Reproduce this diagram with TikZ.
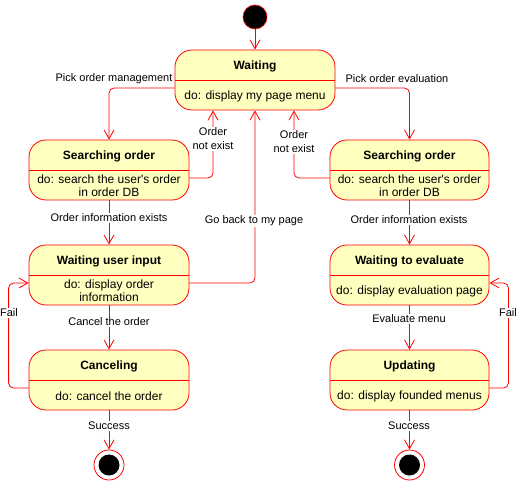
\documentclass[tikz,border=0pt]{standalone}
\usepackage{fontspec}
\setmainfont{Liberation Sans}
\usetikzlibrary{arrows.meta,positioning}
\definecolor{stfill}{HTML}{FFFFC0}
\definecolor{stline}{HTML}{FF0000}
\tikzset{
  stbox/.style={draw=stline,fill=stfill,rounded corners=17pt,line width=0.8pt,inner sep=0pt},
  ttl/.style={font=\bfseries\fontsize{12}{14}\selectfont,inner sep=0pt},
  bdy/.style={font=\fontsize{12}{13}\selectfont,align=center,inner sep=0pt},
  lbl/.style={font=\fontsize{11}{14}\selectfont,fill=white,inner sep=1pt,align=center},
  arr/.style={draw=stline,line width=0.8pt,rounded corners=5pt,-{Straight Barb[length=9pt,width=10pt]}},
  divl/.style={draw=stline,line width=0.8pt},
}
\newcommand{\mkstate}[9]{%
  % #1 name, #2 x1, #3 y1, #4 x2, #5 y2, #6 divider y, #7 title y, #8 body y, #9 title
  \node[stbox,minimum width={(#4-#2)*1pt},minimum height={(#5-#3)*1pt}] (#1) at ({(#2+#4)/2},{(#3+#5)/2}) {};
  \draw[divl] (#2,#6) -- (#4,#6);
  \node[ttl] (#1t) at ({(#2+#4)/2},#7) {#9};
}
\begin{document}
\begin{tikzpicture}[x=1pt,y=-1pt]
\useasboundingbox (0,0) rectangle (521,481);
% initial
\node[circle,draw=stline,fill=black,minimum size=24pt,inner sep=0pt,line width=0.6pt] (init) at (255,17) {};
% states
\mkstate{wait}{175}{50}{335}{110}{80}{66}{96}{Waiting}
\node[bdy] (waitb) at (255,96) {do: display my page menu};
\mkstate{so1}{29}{140}{189}{200}{170}{156}{186}{Searching order}
\node[bdy] (so1b) at (109,186) {do: search the user\textquotesingle s order\\in order DB};
\mkstate{wui}{29}{245}{189}{305}{275}{261}{291}{Waiting user input}
\node[bdy] (wuib) at (109,291) {do: display order\\information};
\mkstate{can}{29}{350}{189}{410}{380}{366}{396}{Canceling}
\node[bdy] (canb) at (109,396) {do: cancel the order};
\mkstate{so2}{330}{140}{489}{200}{170}{156}{186}{Searching order}
\node[bdy] (so2b) at (409.5,186) {do: search the user\textquotesingle s order\\in order DB};
\mkstate{wte}{330}{245}{489}{305}{275}{261}{291}{Waiting to evaluate}
\node[bdy] (wteb) at (409.5,291) {do: display evaluation page};
\mkstate{upd}{330}{350}{489}{410}{380}{366}{396}{Updating}
\node[bdy] (updb) at (409.5,396) {do: display founded menus};
% finals
\node[circle,draw=stline,fill=white,minimum size=30pt,inner sep=0pt,line width=0.8pt] (fin1) at (109,465) {};
\node[circle,fill=black,minimum size=21pt,inner sep=0pt] (fin1i) at (fin1) {};
\node[circle,draw=stline,fill=white,minimum size=30pt,inner sep=0pt,line width=0.8pt] (fin2) at (409.5,465) {};
\node[circle,fill=black,minimum size=21pt,inner sep=0pt] (fin2i) at (fin2) {};
% connectors
\draw[arr] (init) -- (wait.north);
\draw[arr] ([yshift=-8pt]wait.west) -| (so1.north);
\node[lbl] (l1) at (114,79) {Pick order management};
\draw[arr] ([yshift=-8pt]wait.east) -| (so2.north);
\node[lbl] (l2) at (397,79) {Pick order evaluation};
\draw[arr] ([yshift=-8pt]so1.east) -| ([xshift=-42pt]wait.south);
\node[lbl,font=\fontsize{11}{14}\selectfont,inner sep=0.5pt] (l3) at (213,139) {Order\\not exist};
\draw[arr] ([yshift=-8pt]so2.west) -| ([xshift=39pt]wait.south);
\node[lbl,inner sep=0.5pt] (l4) at (294,142) {Order\\not exist};
\draw[arr] (so1.south) -- (wui.north);
\node[lbl] (l5) at (109,218) {Order information exists};
\draw[arr] ([yshift=-8pt]wui.east) -| (wait.south);
\node[lbl] (l6) at (254,221) {Go back to my page};
\draw[arr] (wui.south) -- (can.north);
\node[lbl] (l7) at (109,322) {Cancel the order};
\draw[arr] ([yshift=-8pt]can.west) -- ++(-20,0) |- ([yshift=-8pt]wui.west);
\node[lbl] (l8) at (9,313) {Fail};
\draw[arr] (can.south) -- (fin1.north);
\node[lbl] (l9) at (109,426) {Success};
\draw[arr] (so2.south) -- (wte.north);
\node[lbl] (l10) at (409,220) {Order information exists};
\draw[arr] (wte.south) -- (upd.north);
\node[lbl] (l11) at (409,319) {Evaluate menu};
\draw[arr] ([yshift=-8pt]upd.east) -- ++(19,0) |- ([yshift=-8pt]wte.east);
\node[lbl] (l12) at (508,313) {Fail};
\draw[arr] (upd.south) -- (fin2.north);
\node[lbl] (l13) at (409,426) {Success};
\end{tikzpicture}
\end{document}
